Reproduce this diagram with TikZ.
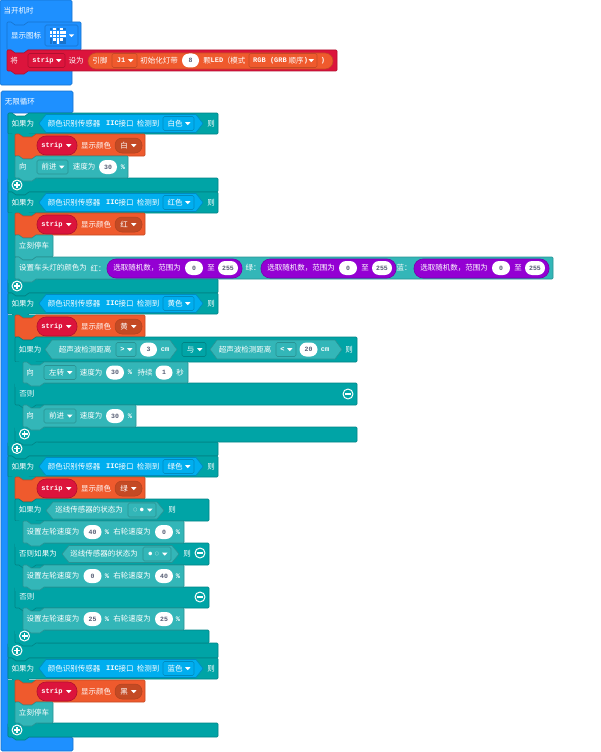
\documentclass[tikz,border=0pt]{standalone}
\usepackage{fontspec}
\setmainfont{Noto Sans CJK SC}
\newfontfamily\latfont{Liberation Mono}[Scale=1.0]
\usetikzlibrary{positioning}
\definecolor{hatblue}{HTML}{1E90FF}
\definecolor{hatedge}{HTML}{1873CC}
\definecolor{crimsonfill}{HTML}{DC143C}
\definecolor{crimsonedge}{HTML}{B0102F}
\definecolor{orangefill}{HTML}{EF5A2D}
\definecolor{orangeedge}{HTML}{C44A24}
\definecolor{tealfill}{HTML}{00A4A6}
\definecolor{tealedge}{HTML}{008385}
\definecolor{mintfill}{HTML}{33B6B8}
\definecolor{mintedge}{HTML}{299293}
\definecolor{skyfill}{HTML}{00AEEF}
\definecolor{skyedge}{HTML}{008BBF}
\definecolor{violetfill}{HTML}{9400D3}
\definecolor{violetedge}{HTML}{7600A9}
\definecolor{numtext}{HTML}{575E75}
\tikzset{
  hatshape/.style={fill=hatblue,draw=hatedge,line width=0.7pt,rounded corners=1.5pt},
  lbl/.style={text=white,font=\fontsize{7.5}{8}\selectfont,inner sep=0pt},
  lat/.style={text=white,font=\fontsize{7}{8}\selectfont\latfont\bfseries,inner sep=0pt},
  numbox/.style={fill=white,rounded corners=7pt,minimum height=14pt,inner sep=0pt,
    text=numtext,font=\fontsize{6.5}{8}\selectfont\latfont\bfseries},
  dropbox/.style={rounded corners=1.5pt,line width=0.6pt,inner sep=0pt},
  ringicon/.style={circle,draw=white,line width=1pt,minimum size=10pt,inner sep=0pt},
  glyphline/.style={white,line width=1.1pt},
}
% stack block with a notch on top and a tab below: fill, edge, x1, y1, x2, y2
\newcommand{\stackblock}[6]{
  \draw[fill=#1,draw=#2,line width=0.6pt,line join=round]
    ({#3+1},#4) -- ({#3+4},#4) -- ({#3+8},{#4+3}) -- ({#3+17},{#4+3}) -- ({#3+21},#4)
    -- ({#5-1},#4) -- (#5,{#4+1}) -- (#5,{#6-1}) -- ({#5-1},#6)
    -- ({#3+21},#6) -- ({#3+17},{#6+3}) -- ({#3+8},{#6+3}) -- ({#3+4},#6)
    -- ({#3+1},#6) -- (#3,{#6-1}) -- (#3,{#4+1}) -- cycle;
}
% hexagon for a boolean: fill, edge, x1, y1, x2, y2
\newcommand{\boolhex}[6]{
  \draw[fill=#1,draw=#2,line width=0.6pt,line join=round]
    (#3,{(#4+#6)/2}) -- ({#3+7},#4) -- ({#5-7},#4) -- (#5,{(#4+#6)/2}) -- ({#5-7},#6) -- ({#3+7},#6) -- cycle;
}
% dropdown: name, fill, edge, x1, x2, y, text style, text
\newcommand{\dropdown}[8]{
  \draw[dropbox,fill=#2,draw=#3] (#4,{#6-7}) rectangle (#5,{#6+7});
  \node[#7,anchor=center] (#1) at ({(#4+#5)/2-3.5},#6) {#8};
  \fill[white] ({#5-9},{#6-1.3}) -- ({#5-3.5},{#6-1.3}) -- ({#5-6.25},{#6+1.6}) -- cycle;
}
% teal spine over the join of head and foot, under the children: x, y1, y2
\newcommand{\ifspine}[3]{
  \fill[tealfill] ({#1+0.3},{#2-0.4}) rectangle ({#1+30},{#3+3.5});
}
\newcommand{\plusicon}[3]{
  \node[ringicon] (#1) at (#2,#3) {};
  \draw[glyphline] ({#2-3},#3) -- ({#2+3},#3) (#2,{#3-3}) -- (#2,{#3+3});
}
\newcommand{\minusicon}[3]{
  \node[ringicon] (#1) at (#2,#3) {};
  \draw[glyphline] ({#2-3},#3) -- ({#2+3},#3);
}
% orange "strip shows colour" row: name, y top, colour word
\newcommand{\striprow}[3]{
  \stackblock{orangefill}{orangeedge}{15}{#2}{145}{#2+22}
  \draw[fill=crimsonfill,draw=crimsonedge,line width=0.6pt,rounded corners=9pt] (37,{#2+2}) rectangle (77,{#2+21});
  \node[lat,anchor=center] (#1s) at (52,{#2+11.5}) {strip};
  \fill[white] (66,{#2+10.2}) -- (71.5,{#2+10.2}) -- (68.75,{#2+13.1}) -- cycle;
  \node[lbl] (#1t) at (96,{#2+11.5}) {显示颜色};
  \draw[fill=orangeedge,draw=orangeedge!90!black,rounded corners=7pt,line width=0.5pt] (115,{#2+4}) rectangle (142,{#2+19});
  \node[lbl] (#1c) at (124,{#2+11.5}) {#3};
  \fill[white] (131,{#2+10.2}) -- (136.5,{#2+10.2}) -- (133.75,{#2+13.1}) -- cycle;
}
% header row of a colour test: name, y top, colour word
\newcommand{\colorhead}[3]{
  \stackblock{tealfill}{tealedge}{8}{#2}{218}{#2+21}
  \node[lbl] (#1a) at (23,{#2+10.5}) {如果为};
  \boolhex{skyfill}{skyedge}{39}{#2+1.5}{203}{#2+19.5}
  \node[lbl] (#1b) at (74,{#2+10.5}) {颜色识别传感器};
  \node[lat] (#1c) at (112.5,{#2+10.5}) {IIC};
  \node[lbl] (#1d) at (126,{#2+10.5}) {接口};
  \node[lbl] (#1e) at (148,{#2+10.5}) {检测到};
  \dropdown{#1f}{skyfill}{skyedge}{163}{194}{#2+10.5}{lbl}{#3}
  \node[lbl] (#1g) at (211,{#2+10.5}) {则};
}
% teal foot of an if: x1, y1, x2, y2
\newcommand{\tealfoot}[4]{\stackblock{tealfill}{tealedge}{#1}{#2}{#3}{#4}}
% wheel speed row: name, y top, left value, right value
\newcommand{\wheelrow}[4]{
  \stackblock{mintfill}{mintedge}{23}{#2}{184}{#2+22}
  \node[lbl] (#1a) at (53,{#2+11}) {设置左轮速度为};
  \node[numbox,minimum width=18pt] (#1b) at (92.5,{#2+11}) {#3};
  \node[lat] (#1c) at (107,{#2+11}) {\%};
  \node[lbl] (#1d) at (132,{#2+11}) {右轮速度为};
  \node[numbox,minimum width=18pt] (#1e) at (164,{#2+11}) {#4};
  \node[lat] (#1f) at (178,{#2+11}) {\%};
}
% random number pill: name, x offset
\newcommand{\randompill}[2]{
  \draw[fill=violetfill,draw=violetedge,line width=0.6pt,rounded corners=9pt] ({107+#2},259) rectangle ({242+#2},278);
  \node[lbl] (#1a) at ({147+#2},268) {选取随机数，范围为};
  \node[numbox,minimum width=18pt] (#1b) at ({194+#2},268) {0};
  \node[lbl] (#1c) at ({211+#2},268) {至};
  \node[numbox,minimum width=20pt] (#1d) at ({228+#2},268) {255};
}
\newcommand{\tinydots}[2]{{\fontsize{4}{5}\selectfont #1\hspace{2.5pt}#2}}
\begin{document}
\begin{tikzpicture}[x=1pt,y=-1pt,line join=round]
  \useasboundingbox (0,0) rectangle (600,752);
  % first hat with the icon and the strip set-up
  \draw[hatshape] (0,0) rectangle (72,85);
  \node[lbl] (startlbl) at (18.5,10.5) {当开机时};
  \stackblock{hatblue}{hatedge}{7}{22}{81}{50}
  \node[lbl] (iconlbl) at (26,35.5) {显示图标};
  \draw[dropbox,fill=hatblue,draw=hatedge] (45,25) rectangle (78,46);
  \foreach \row in {0,...,4} {
    \foreach \col in {0,...,4} {
      \fill[hatedge] ({49.8+3.4*\col},{27.8+3.4*\row}) rectangle ++(2.6,2.6);
    }
  }
  \foreach \col/\row in {1/0,3/0,0/1,1/1,2/1,3/1,4/1,0/2,1/2,2/2,3/2,4/2,1/3,2/3,3/3,2/4} {
    \fill[white] ({49.8+3.4*\col},{27.8+3.4*\row}) rectangle ++(2.6,2.6);
  }
  \fill[white] (69,34.5) -- (74,34.5) -- (71.5,37.2) -- cycle;
  \stackblock{crimsonfill}{crimsonedge}{7}{50}{337}{71}
  \node[lbl] (setlbl) at (14,60.5) {将};
  \dropdown{stripdrop}{crimsonfill}{crimsonedge}{28}{65}{60.5}{lat}{strip}
  \node[lbl] (setto) at (76,60.5) {设为};
  \draw[fill=orangefill,draw=orangeedge,line width=0.6pt,rounded corners=8pt] (88,53) rectangle (333,69);
  \node[lbl] (pinlbl) at (100,60.5) {引脚};
  \dropdown{pindrop}{orangefill}{orangeedge}{112}{137}{60.5}{lat}{J1}
  \node[lbl] (initlbl) at (159,60.5) {初始化灯带};
  \node[numbox,minimum width=17pt] (ledcount) at (190.5,60.5) {8};
  \node[lbl] (ledlbl) at (207,60.5) {颗};
  \node[lat] (ledlat) at (217,60.5) {LED};
  \node[lbl] (modelbl) at (234,60.5) {（模式};
  \draw[dropbox,fill=orangefill,draw=orangeedge] (249,53.5) rectangle (317,67.5);
  \node[lat] (rgblat) at (270,60.5) {RGB (GRB};
  \node[lbl] (rgbcjk) at (296,60.5) {顺序};
  \node[lat] (rgbclose) at (306,60.5) {)};
  \fill[white] (308.5,59.2) -- (314,59.2) -- (311.25,62.1) -- cycle;
  \node[lat] (closelbl) at (323,60.5) {)};
  % second hat, open on the right
  \draw[hatshape] (1,91) -- (73,91) -- (73,113) -- (8,113) -- (8,737) -- (73,737) -- (73,751) -- (1,751) -- cycle;
  \node[lbl] (looplbl) at (20,101.5) {无限循环};
  % white case
  \tealfoot{8}{178}{218}{192}
  \colorhead{wa}{113}{白色}
  \ifspine{8}{134}{178}
  \striprow{wb}{134}{白}
  \stackblock{mintfill}{mintedge}{15}{156}{128}{178}
  \node[lbl] (wc) at (23,167) {向};
  \dropdown{wd}{mintfill}{mintedge}{37}{68}{167}{lbl}{前进}
  \node[lbl] (we) at (84,167) {速度为};
  \node[numbox,minimum width=18pt] (wf) at (108,167) {30};
  \node[lat] (wg) at (123,167) {\%};
  \plusicon{wplus}{17}{185}
  % red case
  \tealfoot{8}{279}{218}{293}
  \colorhead{ra}{192}{红色}
  \ifspine{8}{213}{279}
  \striprow{rb}{213}{红}
  \stackblock{mintfill}{mintedge}{15}{235}{53}{257}
  \node[lbl] (rc) at (34,246) {立刻停车};
  \stackblock{mintfill}{mintedge}{15}{257}{553}{279}
  \node[lbl] (rd) at (53,268) {设置车头灯的颜色为};
  \node[lbl] (re) at (98,268) {红：};
  \randompill{rf}{0}
  \node[lbl] (rg) at (253,268) {绿：};
  \randompill{rh}{154}
  \node[lbl] (ri) at (404,268) {蓝：};
  \randompill{rj}{307}
  \plusicon{rplus}{17}{286}
  % yellow case
  \tealfoot{8}{442}{218}{456}
  \colorhead{ya}{293}{黄色}
  \ifspine{8}{315}{442}
  \striprow{yb}{315}{黄}
  \tealfoot{15}{427}{357}{442}
  \stackblock{tealfill}{tealedge}{15}{337}{357}{362}
  \ifspine{15}{362}{427}
  \node[lbl] (yc) at (30,349.5) {如果为};
  \boolhex{mintfill}{mintedge}{45}{340}{177}{359}
  \node[lbl] (yd) at (85,349.5) {超声波检测距离};
  \dropdown{ye}{mintfill}{mintedge}{116}{136}{349.5}{lat}{>}
  \node[numbox,minimum width=17pt] (yf) at (148.5,349.5) {3};
  \node[lat] (yg) at (165,349.5) {cm};
  \dropdown{yh}{tealfill}{tealedge}{182}{206}{349.5}{lbl}{与}
  \boolhex{mintfill}{mintedge}{210}{340}{342}{359}
  \node[lbl] (yi) at (245,349.5) {超声波检测距离};
  \dropdown{yj}{mintfill}{mintedge}{276}{296}{349.5}{lat}{<}
  \node[numbox,minimum width=18pt] (yk) at (308.5,349.5) {20};
  \node[lat] (yl) at (325,349.5) {cm};
  \node[lbl] (ym) at (349,349.5) {则};
  \stackblock{tealfill}{tealedge}{15}{383}{357}{405}
  \fill[tealfill] (15.3,382) rectangle (45,387);
  \stackblock{mintfill}{mintedge}{23}{362}{188}{383}
  \node[lbl] (yn) at (30,372.5) {向};
  \dropdown{yo}{mintfill}{mintedge}{44}{76}{372.5}{lbl}{左转}
  \node[lbl] (yp) at (91,372.5) {速度为};
  \node[numbox,minimum width=18pt] (yq) at (115,372.5) {30};
  \node[lat] (yr) at (130,372.5) {\%};
  \node[lbl] (ys) at (145,372.5) {持续};
  \node[numbox,minimum width=17pt] (yt) at (164,372.5) {1};
  \node[lbl] (yu) at (180,372.5) {秒};
  \node[lbl] (yv) at (27,394) {否则};
  \minusicon{yminus}{348}{394}
  \stackblock{mintfill}{mintedge}{23}{405}{136}{427}
  \node[lbl] (yw) at (30,416) {向};
  \dropdown{yx}{mintfill}{mintedge}{44}{76}{416}{lbl}{前进}
  \node[lbl] (yy) at (91,416) {速度为};
  \node[numbox,minimum width=18pt] (yz) at (115,416) {30};
  \node[lat] (yaa) at (130,416) {\%};
  \plusicon{yplusin}{24.5}{434}
  \plusicon{yplus}{17}{448.5}
  % green case
  \tealfoot{8}{643}{218}{658}
  \colorhead{ga}{456}{绿色}
  \ifspine{8}{477}{643}
  \striprow{gb}{477}{绿}
  \tealfoot{15}{630}{209}{643}
  \stackblock{tealfill}{tealedge}{15}{499}{209}{521}
  \ifspine{15}{521}{630}
  \node[lbl] (gc) at (30,510) {如果为};
  \boolhex{mintfill}{mintedge}{46}{502}{164}{519}
  \node[lbl] (gd) at (89,510) {巡线传感器的状态为};
  \dropdown{ge}{mintfill}{mintedge}{128}{156}{510}{lbl}{\tinydots{○}{●}}
  \node[lbl] (gf) at (172,510) {则};
  \stackblock{tealfill}{tealedge}{15}{543}{209}{565}
  \fill[tealfill] (15.3,542) rectangle (45,547);
  \wheelrow{gg}{521}{40}{0}
  \node[lbl] (gh) at (38,554) {否则如果为};
  \boolhex{mintfill}{mintedge}{62}{545.5}{179}{562.5}
  \node[lbl] (gi) at (104,554) {巡线传感器的状态为};
  \dropdown{gj}{mintfill}{mintedge}{143}{171}{554}{lbl}{\tinydots{●}{○}}
  \node[lbl] (gk) at (187,554) {则};
  \minusicon{gminusa}{200}{553}
  \stackblock{tealfill}{tealedge}{15}{587}{209}{608}
  \fill[tealfill] (15.3,586) rectangle (45,591);
  \wheelrow{gl}{565}{0}{40}
  \node[lbl] (gm) at (27,597) {否则};
  \minusicon{gminusb}{200}{597}
  \wheelrow{gn}{608}{25}{25}
  \plusicon{gplusin}{24.5}{636}
  \plusicon{gplus}{17}{650.5}
  % blue case
  \tealfoot{8}{723}{218}{737}
  \colorhead{ba}{658}{蓝色}
  \ifspine{8}{680}{723}
  \striprow{bb}{680}{黑}
  \stackblock{mintfill}{mintedge}{15}{702}{53}{723}
  \node[lbl] (bc) at (34,712.5) {立刻停车};
  \plusicon{bplus}{17}{730}
\end{tikzpicture}
\end{document}
